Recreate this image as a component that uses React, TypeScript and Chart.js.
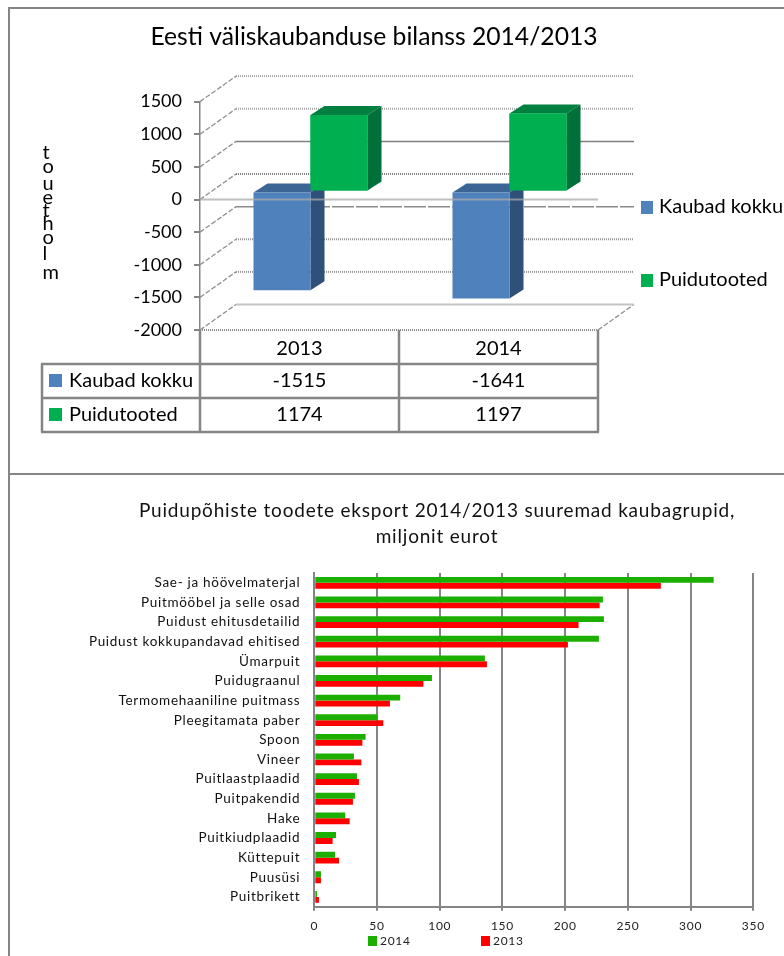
import React, { useEffect, useRef } from "react";
import { Chart, registerables } from "chart.js";

Chart.register(...registerables);

const FONT = "Lato";
const GRAY = "#858585";

// ---- top chart data ----
const years = ["2013", "2014"];
const kaubadKokku = [-1515, -1641];
const puidutooted = [1174, 1197];
const topSeriesNames = ["Kaubad kokku", "Puidutooted"];
const topTitle = "Eesti väliskaubanduse bilanss 2014/2013";
const axisLetters = ["t", "o", "u", "e", "t", "h", "o", "l", "m"];
const topTicks = [1500, 1000, 500, 0, -500, -1000, -1500];

// ---- bottom chart data ----
const products = [
  "Sae- ja höövelmaterjal",
  "Puitmööbel ja selle osad",
  "Puidust ehitusdetailid",
  "Puidust kokkupandavad ehitised",
  "Ümarpuit",
  "Puidugraanul",
  "Termomehaaniline puitmass",
  "Pleegitamata paber",
  "Spoon",
  "Vineer",
  "Puitlaastplaadid",
  "Puitpakendid",
  "Hake",
  "Puitkiudplaadid",
  "Küttepuit",
  "Puusüsi",
  "Puitbrikett",
];
const export2014 = [318.4, 230.1, 230.9, 226.9, 136, 93.8, 68.5, 50.2, 40.9, 31.6, 34, 32.4, 24.7, 17.3, 16.5, 5.3, 2.1];
const export2013 = [276.3, 227.5, 210.7, 202.2, 137.6, 87, 60.3, 55, 38.3, 37.5, 35.6, 30.8, 28.2, 14.6, 19.7, 5.3, 3.7];
const bottomTitle = [
  "Puidupõhiste toodete eksport 2014/2013 suuremad kaubagrupid,",
  "miljonit eurot",
];

const WALL_DX = 36;
const WALL_DY = -25.5;
const BAR_DX = 11;
const BAR_DY = -8;
const SIDE_DX = 14;
const SIDE_DY = -9;

const barShades = [
  { side: "#2F5078", top: "#3A6594" },
  { side: "#00703A", top: "#008040" },
];

const backLineStyle = (v: number): [string, number, number[]] => {
  if (v === 500) return ["#808080", 1.5, []];
  if (v === 0) return ["#808080", 2, [1, 1]];
  if (v === -500) return ["#8a8a8a", 1.5, [22, 2]];
  if (v === 1500 || v === 1000) return ["#a5a5a5", 2, [1, 1]];
  return ["#959595", 2, [1, 1]];
};

const topPlugin = {
  id: "pseudo3d",
  afterLayout(chart: any) {
    const t = chart.titleBlock;
    t.left = 150;
    t.right = 598;
  },
  beforeDatasetsDraw(chart: any) {
    const { ctx, chartArea: a, scales } = chart;
    const y = scales.y;
    ctx.save();
    for (const v of topTicks) {
      const py = y.getPixelForValue(v);
      ctx.setLineDash([5, 2]);
      ctx.lineWidth = 1.3;
      ctx.strokeStyle = "#8f8f8f";
      ctx.beginPath();
      ctx.moveTo(a.left, py);
      ctx.lineTo(a.left + WALL_DX, py + WALL_DY);
      ctx.stroke();
      const [c, w, d] = backLineStyle(v);
      ctx.setLineDash(d);
      ctx.lineWidth = w;
      ctx.strokeStyle = c;
      ctx.beginPath();
      ctx.moveTo(a.left + WALL_DX, py + WALL_DY);
      ctx.lineTo(a.right + WALL_DX, py + WALL_DY);
      ctx.stroke();
    }
    const pb = y.getPixelForValue(-2000);
    ctx.setLineDash([5, 2]);
    ctx.lineWidth = 1.3;
    ctx.strokeStyle = "#8f8f8f";
    for (const x0 of [a.left, a.right]) {
      ctx.beginPath();
      ctx.moveTo(x0, pb);
      ctx.lineTo(x0 + WALL_DX, pb + WALL_DY);
      ctx.stroke();
    }
    ctx.setLineDash([]);
    ctx.lineWidth = 2;
    ctx.strokeStyle = "#c4c4c4";
    ctx.beginPath();
    ctx.moveTo(a.left + WALL_DX, pb + WALL_DY);
    ctx.lineTo(a.right + WALL_DX, pb + WALL_DY);
    ctx.stroke();
    ctx.setLineDash([1, 1]);
    ctx.strokeStyle = "#8a8a8a";
    ctx.beginPath();
    ctx.moveTo(a.left, pb);
    ctx.lineTo(a.right, pb);
    ctx.stroke();
    ctx.restore();
  },
  beforeDatasetDraw(chart: any, args: any) {
    const { ctx } = chart;
    ctx.save();
    ctx.translate(BAR_DX, BAR_DY);
    const shade = barShades[args.index];
    for (const el of args.meta.data) {
      const { x, y, base, width } = el.getProps(["x", "y", "base", "width"], true);
      const l = x - width / 2;
      const r = x + width / 2;
      const t = Math.min(y, base);
      const b = Math.max(y, base);
      ctx.fillStyle = shade.side;
      ctx.beginPath();
      ctx.moveTo(r, t);
      ctx.lineTo(r + SIDE_DX, t + SIDE_DY);
      ctx.lineTo(r + SIDE_DX, b + SIDE_DY);
      ctx.lineTo(r, b);
      ctx.closePath();
      ctx.fill();
      ctx.fillStyle = shade.top;
      ctx.beginPath();
      ctx.moveTo(l, t);
      ctx.lineTo(l + SIDE_DX, t + SIDE_DY);
      ctx.lineTo(r + SIDE_DX, t + SIDE_DY);
      ctx.lineTo(r, t);
      ctx.closePath();
      ctx.fill();
    }
  },
  afterDatasetDraw(chart: any) {
    chart.ctx.restore();
  },
  afterDatasetsDraw(chart: any) {
    const { ctx, chartArea: a, scales } = chart;
    // second series sits in front of the first one's depth faces
    ctx.save();
    ctx.translate(BAR_DX, BAR_DY);
    chart.getDatasetMeta(1).data.forEach((el: any) => el.draw(ctx));
    ctx.restore();
    const p0 = scales.y.getPixelForValue(0);
    ctx.save();
    ctx.strokeStyle = "rgba(170,170,170,0.75)";
    ctx.lineWidth = 2;
    ctx.beginPath();
    ctx.moveTo(a.left, p0);
    ctx.lineTo(a.right, p0);
    ctx.stroke();
    ctx.restore();
  },
  afterDraw(chart: any) {
    const { ctx, chartArea: a } = chart;
    const colors = chart.data.datasets.map((d: any) => d.backgroundColor);
    ctx.save();
    ctx.fillStyle = "#000";
    ctx.font = `20px ${FONT}`;
    ctx.textAlign = "left";
    ctx.textBaseline = "middle";
    const letterY = [153, 167, 184, 198, 211, 224, 238, 254, 273];
    axisLetters.forEach((c, i) => ctx.fillText(c, 42.5, letterY[i]));

    const colX = [a.left, (a.left + a.right) / 2, a.right];
    const rowY = [a.bottom, 364, 398, 432];
    const tableLeft = 42;
    ctx.strokeStyle = GRAY;
    ctx.lineWidth = 2.5;
    ctx.beginPath();
    for (const x of colX) {
      ctx.moveTo(x, rowY[0]);
      ctx.lineTo(x, rowY[3]);
    }
    ctx.moveTo(tableLeft, rowY[1]);
    ctx.lineTo(tableLeft, rowY[3]);
    for (const y of rowY.slice(1)) {
      ctx.moveTo(tableLeft - 1, y);
      ctx.lineTo(a.right + 1, y);
    }
    ctx.stroke();

    ctx.textAlign = "center";
    ctx.font = `20px ${FONT}`;
    ctx.fillStyle = "#000";
    const colMid = [(colX[0] + colX[1]) / 2, (colX[1] + colX[2]) / 2];
    years.forEach((yr, i) => ctx.fillText(yr, colMid[i], 349));
    chart.data.datasets.forEach((ds: any, r: number) => {
      const ty = (rowY[r + 1] + rowY[r + 2]) / 2;
      ctx.fillStyle = colors[r];
      ctx.fillRect(49, ty - 7, 13, 13);
      ctx.fillStyle = "#000";
      ctx.textAlign = "left";
      ctx.fillText(ds.label, 69, ty);
      ctx.textAlign = "center";
      ds.data.forEach((v: number, i: number) => ctx.fillText(String(v), colMid[i], ty));
    });

    ctx.textAlign = "left";
    const legendY = [207, 280];
    chart.data.datasets.forEach((ds: any, r: number) => {
      ctx.fillStyle = colors[r];
      ctx.fillRect(641, legendY[r] - 6, 12, 13);
      ctx.fillStyle = "#000";
      ctx.fillText(ds.label, 659, legendY[r]);
    });
    ctx.restore();
  },
};

const bottomLegendPlugin = {
  id: "bottomLegend",
  beforeDraw(chart: any) {
    chart.ctx.letterSpacing = "0.7px";
  },
  afterLayout(chart: any) {
    const t = chart.titleBlock;
    if (t.__spaced) return;
    const orig = t.draw;
    t.draw = function () {
      const ctx = chart.ctx;
      const prev = ctx.letterSpacing;
      ctx.letterSpacing = "0.8px";
      orig.call(t);
      ctx.letterSpacing = prev;
    };
    t.__spaced = true;
  },
  afterDraw(chart: any) {
    const { ctx } = chart;
    const xs = [368, 481];
    const cy = 467;
    ctx.save();
    ctx.font = `12px ${FONT}`;
    ctx.textBaseline = "middle";
    ctx.textAlign = "left";
    chart.data.datasets.forEach((ds: any, i: number) => {
      ctx.fillStyle = ds.backgroundColor;
      ctx.fillRect(xs[i], cy - 5, 9, 10);
      ctx.fillStyle = "#222";
      ctx.fillText(ds.label, xs[i] + 12, cy);
    });
    ctx.restore();
  },
};

export default function App() {
  const topRef = useRef<HTMLCanvasElement>(null);
  const bottomRef = useRef<HTMLCanvasElement>(null);

  useEffect(() => {
    const top = new Chart(topRef.current!, {
      type: "bar",
      data: {
        labels: years,
        datasets: [
          { label: topSeriesNames[0], data: kaubadKokku, backgroundColor: "#4F81BD", clip: false },
          { label: topSeriesNames[1], data: puidutooted, backgroundColor: "#00B050", clip: false },
        ],
      } as any,
      options: {
        responsive: false,
        animation: false,
        events: [],
        layout: { padding: { left: 126, right: 186, top: 22, bottom: 144 } },
        datasets: { bar: { categoryPercentage: 0.573, barPercentage: 1 } },
        plugins: {
          legend: { display: false },
          tooltip: { enabled: false },
          title: {
            display: true,
            text: topTitle,
            color: "#000",
            font: { family: FONT, size: 24.7, weight: "normal", lineHeight: 1.2 },
            padding: { top: 0, bottom: 50 },
          },
        },
        scales: {
          x: { display: false },
          y: {
            min: -2000,
            max: 1500,
            afterFit: (s: any) => {
              s.width = 74;
            },
            border: { color: GRAY, width: 1.5 },
            grid: { drawOnChartArea: false, color: GRAY, lineWidth: 2, tickLength: 6 },
            ticks: {
              stepSize: 500,
              padding: 12,
              color: "#000",
              font: { family: FONT, size: 18 },
              callback: (v: any) => String(v),
            },
          },
        },
      } as any,
      plugins: [topPlugin],
    } as any);

    const bottom = new Chart(bottomRef.current!, {
      type: "bar",
      data: {
        labels: products,
        datasets: [
          { label: "2014", data: export2014, backgroundColor: "#1CAF00" },
          { label: "2013", data: export2013, backgroundColor: "#FF0000" },
        ],
      },
      options: {
        indexAxis: "y",
        responsive: false,
        animation: false,
        events: [],
        layout: { padding: { left: 90, right: 30.7, top: 24, bottom: 19.3 } },
        datasets: { bar: { categoryPercentage: 0.6, barPercentage: 1 } },
        plugins: {
          legend: { display: false },
          tooltip: { enabled: false },
          title: {
            display: true,
            text: bottomTitle,
            color: "#111",
            font: { family: FONT, size: 19, weight: "normal", lineHeight: 26 / 19 },
            padding: { top: 0, bottom: 23 },
          },
        },
        scales: {
          x: {
            min: 0,
            max: 350,
            afterFit: (s: any) => {
              s.height = 30;
            },
            border: { color: GRAY, width: 2 },
            grid: { color: GRAY, lineWidth: 2, tickLength: 4 },
            ticks: {
              stepSize: 50,
              padding: 8.5,
              maxRotation: 0,
              color: "#222",
              font: { family: FONT, size: 12 },
            },
          },
          y: {
            afterFit: (s: any) => {
              s.width = 224.3;
            },
            border: { color: GRAY, width: 2 },
            grid: { display: false },
            ticks: {
              padding: 6,
              autoSkip: false,
              color: "#111",
              font: { family: FONT, size: 13.5 },
            },
          },
        },
      } as any,
      plugins: [
        bottomLegendPlugin,
        {
          id: "centerBottomTitle",
          afterLayout(chart: any) {
            chart.titleBlock.left = 120.7;
            chart.titleBlock.right = 753.3;
          },
        },
      ],
    } as any);

    return () => {
      top.destroy();
      bottom.destroy();
    };
  }, []);

  const line = (style: React.CSSProperties) => (
    <div style={{ position: "absolute", background: GRAY, ...style }} />
  );

  return (
    <div style={{ position: "fixed", left: 0, top: 0, width: 784, height: 956, overflow: "hidden", background: "#fff" }}>
      <canvas ref={topRef} width={784} height={474} style={{ position: "absolute", left: 0, top: 0, display: "block" }} />
      <canvas ref={bottomRef} width={784} height={482} style={{ position: "absolute", left: 0, top: 474, display: "block" }} />
      {line({ left: 8, top: 7, width: 776, height: 2 })}
      {line({ left: 8, top: 7, width: 2, height: 949 })}
      {line({ left: 8, top: 473, width: 776, height: 2 })}
    </div>
  );
}
